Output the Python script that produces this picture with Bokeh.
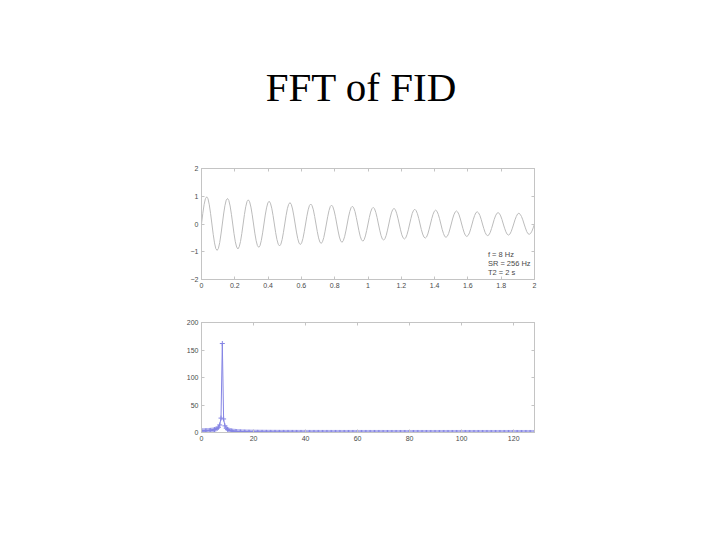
import numpy as np
from bokeh.plotting import figure
from bokeh.layouts import column
from bokeh.models import Range1d, LinearAxis, FixedTicker, CustomJSTickFormatter, Label
from bokeh.core.properties import value
from bokeh.embed import file_html
from bokeh.resources import INLINE

# ---------------- data ----------------
TITLE = "FFT of FID"

# FID time signal (16 samples per 8 Hz cycle, 0..2 s)
fid_signal = [
    0, 0.38, 0.70, 0.91, 0.98, 0.91, 0.69, 0.37, 0, -0.37, -0.68, -0.89, -0.95, -0.88, -0.67, -0.36,
    0, 0.36, 0.66, 0.86, 0.92, 0.85, 0.65, 0.35, 0, -0.35, -0.64, -0.83, -0.90, -0.82, -0.63, -0.34,
    0, 0.34, 0.62, 0.81, 0.87, 0.80, 0.61, 0.33, 0, -0.33, -0.60, -0.78, -0.84, -0.78, -0.59, -0.32,
    0, 0.32, 0.58, 0.76, 0.82, 0.75, 0.57, 0.31, 0, -0.31, -0.56, -0.73, -0.79, -0.73, -0.56, -0.30,
    0, 0.30, 0.55, 0.71, 0.77, 0.71, 0.54, 0.29, 0, -0.29, -0.53, -0.69, -0.74, -0.68, -0.52, -0.28,
    0, 0.28, 0.51, 0.67, 0.72, 0.66, 0.51, 0.27, 0, -0.27, -0.50, -0.65, -0.70, -0.64, -0.49, -0.26,
    0, 0.26, 0.48, 0.63, 0.68, 0.62, 0.47, 0.26, 0, -0.25, -0.47, -0.61, -0.66, -0.60, -0.46, -0.25,
    0, 0.25, 0.45, 0.59, 0.64, 0.58, 0.45, 0.24, 0, -0.24, -0.44, -0.57, -0.62, -0.57, -0.43, -0.23,
    0, 0.23, 0.43, 0.55, 0.60, 0.55, 0.42, 0.23, 0, -0.22, -0.41, -0.54, -0.58, -0.53, -0.41, -0.22,
    0, 0.22, 0.40, 0.52, 0.56, 0.52, 0.39, 0.21, 0, -0.21, -0.39, -0.50, -0.54, -0.50, -0.38, -0.21,
    0, 0.20, 0.38, 0.49, 0.53, 0.48, 0.37, 0.20, 0, -0.20, -0.36, -0.47, -0.51, -0.47, -0.36, -0.19,
    0, 0.19, 0.35, 0.46, 0.50, 0.46, 0.35, 0.19, 0, -0.19, -0.34, -0.45, -0.48, -0.44, -0.34, -0.18,
    0, 0.18, 0.33, 0.43, 0.47, 0.43, 0.33, 0.18, 0, -0.17, -0.32, -0.42, -0.45, -0.41, -0.32, -0.17,
    0, 0.17, 0.31, 0.41, 0.44, 0.40, 0.31, 0.17, 0, -0.16, -0.30, -0.39, -0.42, -0.39, -0.30, -0.16,
    0, 0.16, 0.29, 0.38, 0.41, 0.38, 0.29, 0.16, 0, -0.15, -0.28, -0.37, -0.40, -0.37, -0.28, -0.15,
    0, 0.15, 0.27, 0.36, 0.39, 0.35, 0.27, 0.15, 0, -0.14, -0.27, -0.35, -0.37, -0.34, -0.26, -0.14,
    0,
]
FID_T_START = 0.0
FID_T_END = 2.0

# FFT magnitude (0.5 Hz bins, 0 .. 127.5 Hz)
fft_magnitude = [
    3.20, 3.22, 3.25, 3.32, 3.42, 3.55, 3.73, 3.96, 4.27, 4.69, 5.26, 6.08, 7.33, 9.44, 13.70, 26.19,
    161.80,
    24.62, 12.07, 7.84, 5.72, 4.46, 3.62, 3.02, 2.58, 2.24, 1.97, 1.75, 1.57, 1.42, 1.29, 1.18, 1.08,
    1.00, 0.92, 0.86, 0.80, 0.75, 0.70, 0.66, 0.62, 0.59, 0.56, 0.53, 0.50, 0.48, 0.45, 0.43, 0.41,
    0.39, 0.38, 0.36, 0.35, 0.33, 0.32, 0.31, 0.30, 0.29, 0.28, 0.27, 0.26, 0.25, 0.24, 0.23, 0.22,
    0.22, 0.21, 0.21, 0.20, 0.19, 0.19, 0.18, 0.18, 0.17, 0.17, 0.16, 0.16, 0.16, 0.15, 0.15,
    0.14, 0.14, 0.14,
    0.13, 0.13, 0.13, 0.13,
    0.12, 0.12, 0.12, 0.12,
    0.11, 0.11, 0.11, 0.11,
    0.10, 0.10, 0.10, 0.10, 0.10, 0.10,
    0.09, 0.09, 0.09, 0.09, 0.09, 0.09,
    0.08, 0.08, 0.08, 0.08, 0.08, 0.08, 0.08, 0.08,
    0.07, 0.07, 0.07, 0.07, 0.07, 0.07, 0.07, 0.07, 0.07, 0.07, 0.07,
    0.06, 0.06, 0.06, 0.06, 0.06, 0.06, 0.06, 0.06, 0.06, 0.06, 0.06, 0.06, 0.06, 0.06,
    0.05, 0.05, 0.05, 0.05, 0.05, 0.05, 0.05, 0.05, 0.05, 0.05, 0.05, 0.05, 0.05, 0.05,
    0.05, 0.05, 0.05, 0.05, 0.05, 0.05, 0.05,
    0.04, 0.04, 0.04, 0.04, 0.04, 0.04, 0.04, 0.04, 0.04, 0.04, 0.04, 0.04, 0.04, 0.04,
    0.04, 0.04, 0.04, 0.04, 0.04, 0.04, 0.04, 0.04, 0.04, 0.04, 0.04, 0.04, 0.04, 0.04,
    0.04, 0.04, 0.04, 0.04, 0.04, 0.04, 0.04, 0.04, 0.04, 0.04, 0.04, 0.04,
    0.03, 0.03, 0.03, 0.03, 0.03, 0.03, 0.03, 0.03, 0.03, 0.03, 0.03, 0.03, 0.03, 0.03,
    0.03, 0.03, 0.03, 0.03, 0.03, 0.03, 0.03, 0.03, 0.03, 0.03, 0.03, 0.03, 0.03, 0.03,
    0.03, 0.03, 0.03, 0.03, 0.03, 0.03, 0.03, 0.03, 0.03, 0.03, 0.03, 0.03, 0.03, 0.03,
    0.03, 0.03, 0.03, 0.03, 0.03, 0.03, 0.03, 0.03, 0.03, 0.03, 0.03, 0.03, 0.03,
]
FFT_BIN_HZ = 0.5

fid_xticks = [0, 0.2, 0.4, 0.6, 0.8, 1, 1.2, 1.4, 1.6, 1.8, 2]
fid_yticks = [-2, -1, 0, 1, 2]
fft_xticks = [0, 20, 40, 60, 80, 100, 120]
fft_yticks = [0, 50, 100, 150, 200]
param_labels = ["f = 8 Hz", "SR = 256 Hz", "T2 = 2 s"]

t = np.linspace(FID_T_START, FID_T_END, len(fid_signal))
freq = np.arange(len(fft_magnitude)) * FFT_BIN_HZ

# ---------------- style ----------------
AX = "#c4c4c4"
LBL = "#4a4a4a"
GRAY_LINE = "#bcbcbc"
BLUE = "#8585e4"
TICK_FONT = "Liberation Sans"


def style_axes(p, xticks, yticks, xfmt=None):
    blank = CustomJSTickFormatter(code="return ''")
    p.grid.visible = False
    p.outline_line_color = AX
    p.background_fill_color = "white"
    p.border_fill_color = "white"
    for ax, ticks in ((p.xaxis[0], xticks), (p.yaxis[0], yticks)):
        ax.ticker = FixedTicker(ticks=ticks)
        ax.axis_line_color = AX
        ax.major_tick_line_color = AX
        ax.major_tick_in = 3
        ax.major_tick_out = 0
        ax.minor_tick_line_color = None
        ax.major_label_text_font = TICK_FONT
        ax.major_label_text_font_size = "7px"
        ax.major_label_text_color = LBL
        ax.major_label_standoff = 3
    if xfmt is not None:
        p.xaxis[0].formatter = xfmt
    top = LinearAxis(ticker=FixedTicker(ticks=xticks), formatter=blank)
    right = LinearAxis(ticker=FixedTicker(ticks=yticks), formatter=blank)
    for ax in (top, right):
        ax.axis_line_color = AX
        ax.major_tick_line_color = AX
        ax.major_tick_in = 3
        ax.major_tick_out = 0
        ax.minor_tick_line_color = None
        ax.major_label_standoff = 0
        ax.major_label_text_font_size = "7px"
    p.add_layout(top, "above")
    p.add_layout(right, "right")


# ---------------- title ----------------
W = 704
TH = 158
pt = figure(width=W, height=TH, x_range=Range1d(0, W), y_range=Range1d(0, TH),
            x_axis_type=None, y_axis_type=None, min_border=0, title=None,
            output_backend="svg", toolbar_location=None)
pt.grid.visible = False
pt.outline_line_color = None
pt.text(x=[338], y=[TH - 86], text=[TITLE], text_font=value("Liberation Serif"),
        text_font_size="41px", text_align="center", text_baseline="alphabetic",
        text_color="black")

# ---------------- FID panel ----------------
p1 = figure(width=W, height=142, x_range=Range1d(0, 2), y_range=Range1d(-2, 2),
            min_border_left=201, min_border_right=170, min_border_top=10, min_border_bottom=21,
            output_backend="svg", toolbar_location=None)
style_axes(p1, fid_xticks, fid_yticks,
           xfmt=CustomJSTickFormatter(code="return String(Math.round(tick*10)/10)"))
p1.line(t, fid_signal, line_color=GRAY_LINE, line_width=1)
for i, txt in enumerate(param_labels):
    p1.add_layout(Label(x=1.72, y=-1.11 - 0.32 * i, text=txt,
                        text_font=TICK_FONT, text_font_size="7.5px",
                        text_color=LBL, text_baseline="middle"))

# ---------------- FFT panel ----------------
p2 = figure(width=W, height=232, x_range=Range1d(0, 128), y_range=Range1d(0, 200),
            min_border_left=201, min_border_right=169, min_border_top=22, min_border_bottom=100,
            output_backend="svg", toolbar_location=None)
style_axes(p2, fft_xticks, fft_yticks)
p2.line(freq, fft_magnitude, line_color=BLUE, line_width=1)
p2.scatter(freq, fft_magnitude, marker="cross", size=5, line_color=BLUE, line_width=1)

layout = column(pt, p1, p2, spacing=0)
open("out.html", "w").write(file_html(layout, INLINE))
